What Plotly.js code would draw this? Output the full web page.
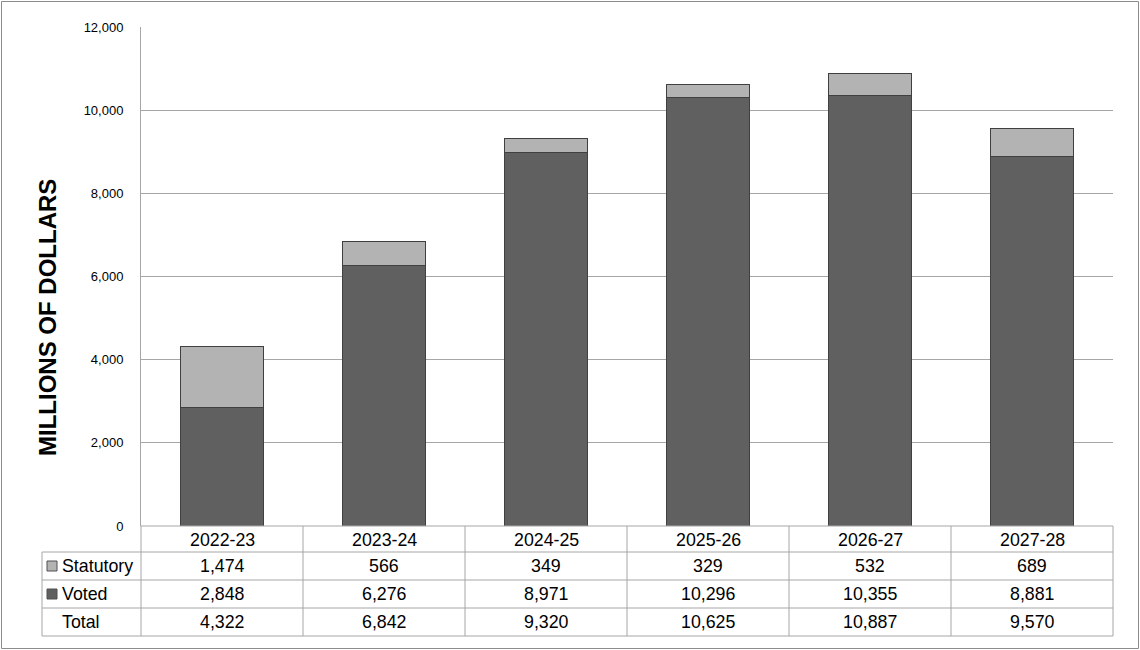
<!DOCTYPE html>
<html>
<head>
<meta charset="utf-8">
<script src="https://cdn.plot.ly/plotly-3.0.1.min.js"></script>
<style>
html,body{margin:0;padding:0;background:#fff;}
#chart{width:1140px;height:650px;}
</style>
</head>
<body>
<div id="chart"></div>
<script>
const categories = ["2022-23", "2023-24", "2024-25", "2025-26", "2026-27", "2027-28"];
const statutory = [1474, 566, 349, 329, 532, 689];
const voted = [2848, 6276, 8971, 10296, 10355, 8881];
const total = [4322, 6842, 9320, 10625, 10887, 9570];
const rowLabels = ["Statutory", "Voted", "Total"];
const yTicks = [0, 2000, 4000, 6000, 8000, 10000, 12000];

// pixel geometry
const W = 1140, H = 650;
const L = 141, R = 1113, T = 27, B = 526;
const px = x => (x - L) / (R - L);
const py = y => (B - y) / (B - T);

const lineCol = '#a6a6a6';
const fontFam = '"Liberation Sans", Arial, sans-serif';
const tblSize = 17.8;

const traces = [
  {type: 'bar', name: 'Voted', x: categories, y: voted,
   marker: {color: '#606060', line: {color: '#404040', width: 1}}, hoverinfo: 'x+y+name'},
  {type: 'bar', name: 'Statutory', x: categories, y: statutory,
   marker: {color: '#b3b3b3', line: {color: '#404040', width: 1}}, hoverinfo: 'x+y+name'}
];

const shapes = [];
const annotations = [];
const line = (x0, y0, x1, y1, c) => shapes.push({type: 'line', xref: 'paper', yref: 'paper',
  x0: px(x0), y0: py(y0), x1: px(x1), y1: py(y1), line: {color: c || lineCol, width: 1}});

// outer frame
shapes.push({type: 'rect', xref: 'paper', yref: 'paper', x0: px(1.5), y0: py(1.5), x1: px(1138.5), y1: py(648.5),
  line: {color: '#8c8c8c', width: 1}});

// table grid
const rowLines = [526, 552, 580, 608, 636];
line(L, 526, R, 526);
for (let i = 1; i < rowLines.length; i++) line(42, rowLines[i], R, rowLines[i]);
line(42, 552, 42, 636);
for (let i = 0; i <= categories.length; i++) {
  const x = L + i * (R - L) / categories.length;
  line(x, 526, x, 636);
}

// header labels
categories.forEach(c => annotations.push({xref: 'x', yref: 'paper', x: c, y: py(539.5), text: c,
  showarrow: false, font: {family: fontFam, size: tblSize, color: '#000'}, xanchor: 'center', yanchor: 'middle'}));

const rowsData = [statutory, voted, total];
const rowMid = [566, 594, 622];
rowsData.forEach((arr, r) => {
  arr.forEach((v, i) => annotations.push({xref: 'x', yref: 'paper', x: categories[i], y: py(rowMid[r]),
    text: v.toLocaleString('en-US'), showarrow: false,
    font: {family: fontFam, size: tblSize, color: '#000'}, xanchor: 'center', yanchor: 'middle'}));
  annotations.push({xref: 'paper', yref: 'paper', x: px(60), y: py(rowMid[r]), text: rowLabels[r],
    showarrow: false, font: {family: fontFam, size: tblSize, color: '#000'}, xanchor: 'left', yanchor: 'middle'});
});
// legend keys
const keyCols = ['#b3b3b3', '#606060'];
keyCols.forEach((c, r) => {
  const cy = rowMid[r];
  shapes.push({type: 'rect', xref: 'paper', yref: 'paper', x0: px(47), x1: px(57), y0: py(cy - 5), y1: py(cy + 5),
    fillcolor: c, line: {color: '#505050', width: 1}});
});

// y-axis title
annotations.push({xref: 'paper', yref: 'paper', x: px(47), y: py(318), text: 'MILLIONS OF DOLLARS',
  textangle: -90, showarrow: false, font: {family: fontFam, size: 24, color: '#000', weight: 'bold'},
  xanchor: 'center', yanchor: 'middle'});

const layout = {
  width: W, height: H, autosize: false,
  margin: {l: L, r: W - R, t: T, b: H - B, pad: 0},
  paper_bgcolor: '#fff', plot_bgcolor: '#fff',
  barmode: 'stack', bargap: 0.49, showlegend: false,
  xaxis: {type: 'category', range: [-0.5, 5.5], showticklabels: false, showgrid: false,
    zeroline: false, showline: false, ticks: '', fixedrange: true},
  yaxis: {range: [0, 12000], tickvals: yTicks, tickformat: ',', showgrid: true, gridcolor: lineCol,
    gridwidth: 1, zeroline: false, showline: true, linecolor: lineCol, linewidth: 1, ticks: 'outside',
    ticklen: 0, ticklabelstandoff: 14, tickfont: {family: fontFam, size: 13, color: '#000'}, fixedrange: true},
  shapes: shapes, annotations: annotations
};

Plotly.newPlot('chart', traces, layout, {displayModeBar: false, staticPlot: false});
</script>
</body>
</html>
